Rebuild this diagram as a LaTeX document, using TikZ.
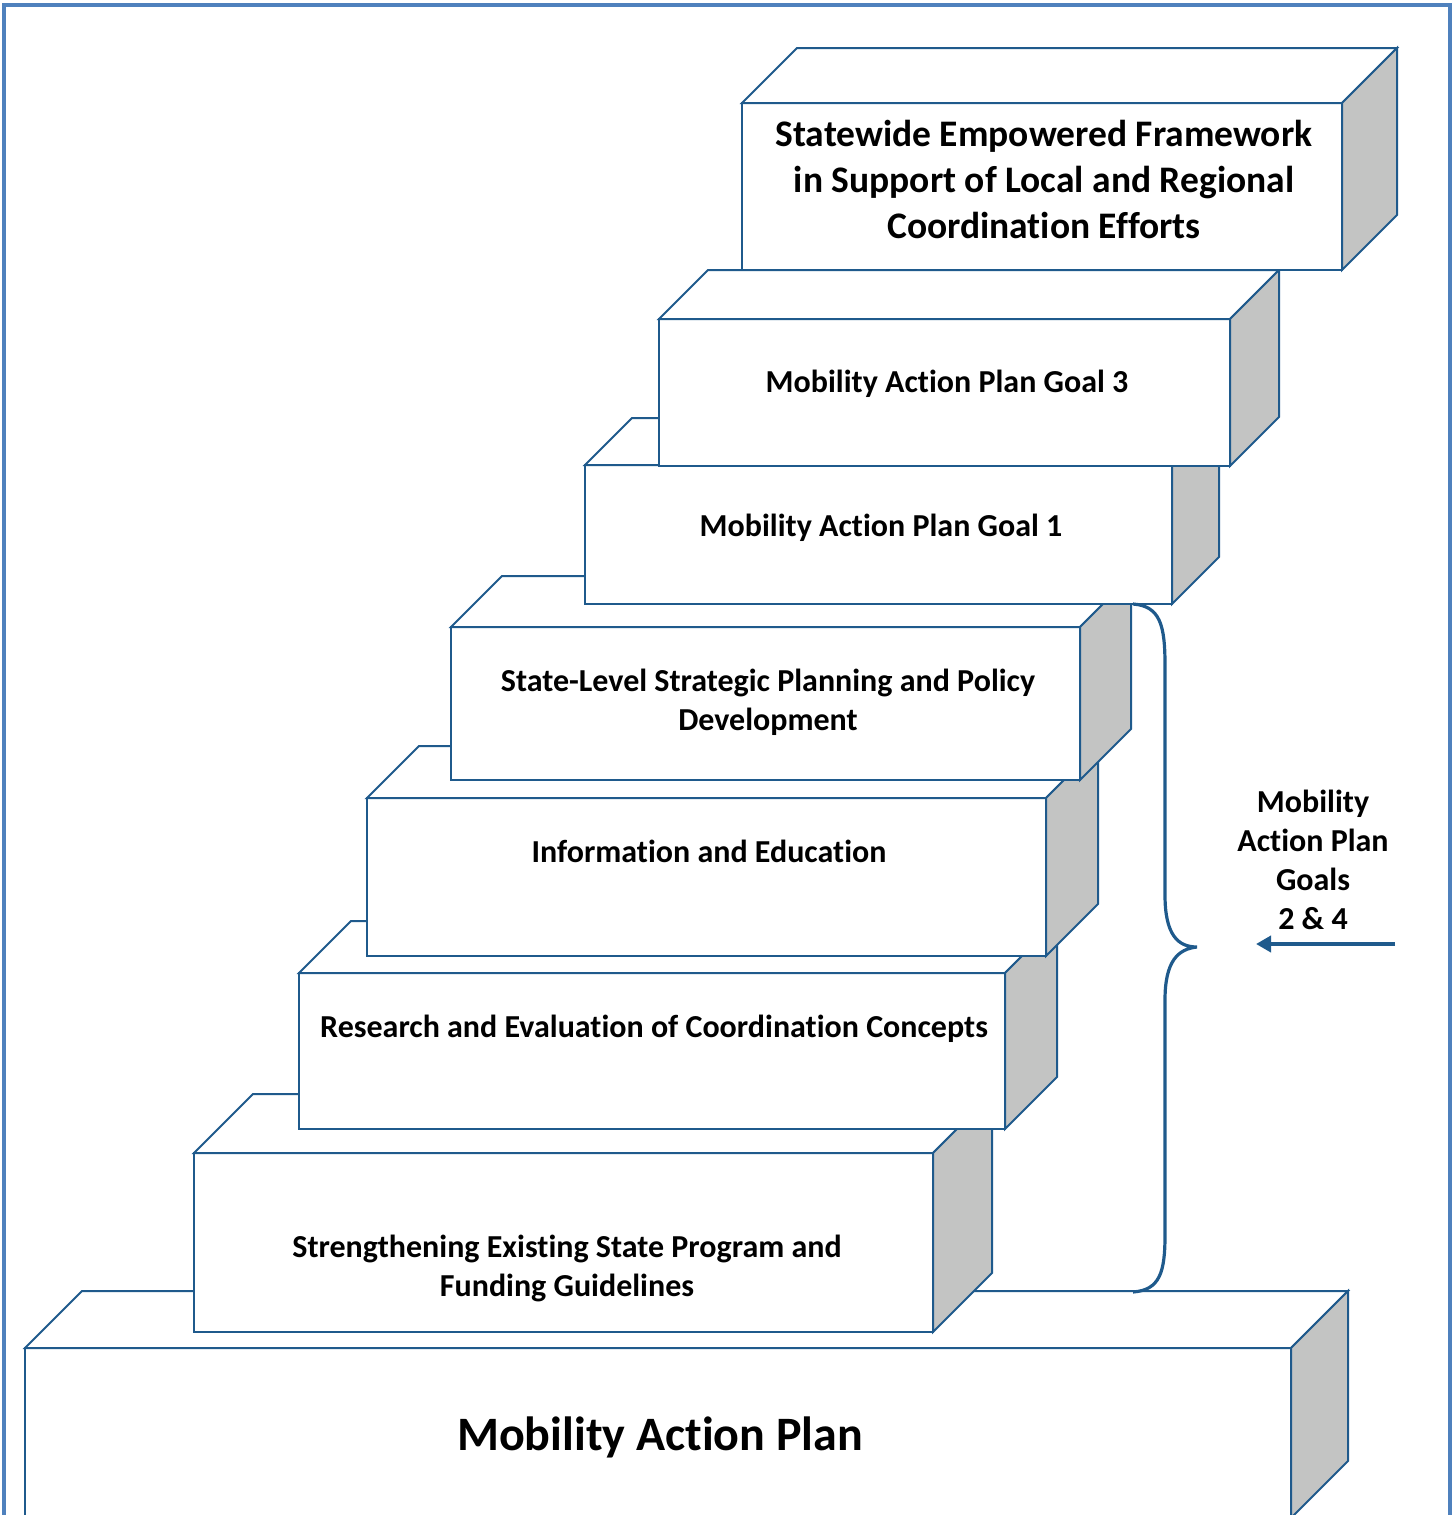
\documentclass[tikz,border=0pt]{standalone}
\usepackage{fontspec}
\setmainfont{Carlito}[Ligatures=NoCommon]
\usetikzlibrary{arrows.meta}
\definecolor{stepblue}{HTML}{1F5A8C}
\definecolor{frameblue}{HTML}{4F81BD}
\definecolor{sidegray}{HTML}{C3C4C3}
\tikzset{
  boxline/.style={draw=stepblue, line width=1pt, line join=miter},
  steptext/.style={text=black, align=center, inner sep=0pt},
  bracket/.style={draw=stepblue, line width=1.6pt},
  goalarrow/.style={draw=stepblue, line width=2pt, -{Triangle[length=7.5pt,width=8pt]}}
}
\newcommand{\drawStep}[5]{
    % Draw the front face
    \filldraw[boxline, fill=white] (#1,#2) rectangle ++(#3,#4);
    % Draw the top face
    \filldraw[boxline, fill=white] (#1,#2) -- ++(#5,-#5) -- ++(#3,0) -- ++(-#5,#5) -- cycle;
    % Draw the shaded side
    \filldraw[boxline, fill=sidegray] (#1+#3,#2) -- ++(#5,-#5) -- ++(0,#4) -- ++(-#5,#5) -- cycle;
}
\begin{document}
\begin{tikzpicture}[x=0.5pt, y=-0.5pt]
  \useasboundingbox (0,0) rectangle (1453,1515);
  % Draw the outer frame
  \draw[frameblue, line width=2pt] (4,5) rectangle (1450,1560);

  % Draw the steps from the bottom up
  \foreach \x/\y/\w/\h/\d in {25/1348/1266/170/57, 194/1153/739/179/59, 299/973/706/156/52,
      367/798/679/158/52, 451/627/629/153/51, 585/465/587/139/47, 659/319/571/147/49, 742/103/600/167/55} {
    \drawStep{\x}{\y}{\w}{\h}{\d}
  }

  % Label the steps
  \node[steptext, anchor=base, font=\bfseries\fontsize{24}{29}\selectfont] (base) at (660,1450) {Mobility Action Plan};
  \node[steptext, font=\bfseries\fontsize{16}{19.5}\selectfont] (strengthen) at (567,1268) {Strengthening Existing State Program and\\Funding Guidelines};
  \node[steptext, anchor=base, font=\bfseries\fontsize{16}{19.5}\selectfont] (research) at (654,1037) {Research and Evaluation of Coordination Concepts};
  \node[steptext, anchor=base, font=\bfseries\fontsize{16}{19.5}\selectfont] (info) at (709,862) {Information and Education};
  \node[steptext, font=\bfseries\fontsize{16}{19.5}\selectfont] (statelevel) at (768,702) {State-Level Strategic Planning and Policy\\Development};
  \node[steptext, anchor=base, font=\bfseries\fontsize{16}{19.5}\selectfont] (goalone) at (881,536) {Mobility Action Plan Goal 1};
  \node[steptext, anchor=base, font=\bfseries\fontsize{16}{19.5}\selectfont] (goalthree) at (947,392) {Mobility Action Plan Goal 3};
  \node[steptext, font=\bfseries\fontsize{18.75}{23}\selectfont] (statewide) at (1044,179) {Statewide Empowered Framework\\in Support of Local and Regional\\Coordination Efforts};

  % Draw the brace and the goals label
  \coordinate (braceTop) at (1133,604);
  \coordinate (braceTip) at (1197,947);
  \coordinate (braceBottom) at (1133,1292);
  \draw[bracket] (braceTop) .. controls (1160,606) and (1165,625) .. (1165,665) -- (1165,895)
    .. controls (1165,935) and (1178,947) .. (braceTip)
    .. controls (1178,949) and (1165,961) .. (1165,1000) -- (1165,1235)
    .. controls (1165,1272) and (1160,1290) .. (braceBottom);
  \node[steptext, font=\bfseries\fontsize{16}{19.5}\selectfont] (goalslabel) at (1313,860) {Mobility\\Action Plan\\Goals\\2 \& 4};
  \coordinate (arrowStart) at (1395,944);
  \coordinate (arrowEnd) at (1256,944);
  \draw[goalarrow] (arrowStart) -- (arrowEnd);
\end{tikzpicture}
\end{document}
